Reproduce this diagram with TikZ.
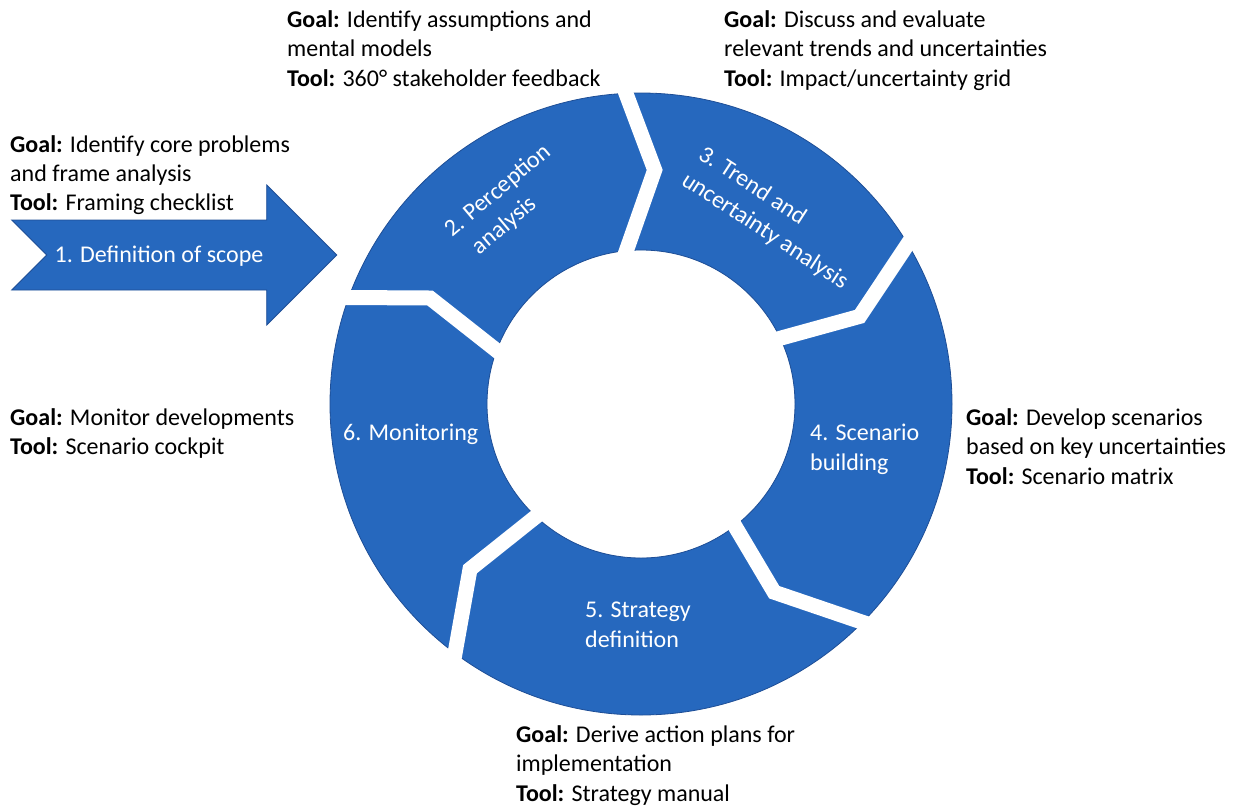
\documentclass[tikz,border=0pt]{standalone}
\usepackage{fontspec}
\setmainfont{Carlito}
\usetikzlibrary{calc}
\definecolor{ringblue}{RGB}{38,104,190}
\definecolor{ringedge}{RGB}{30,78,150}
\begin{document}
\begin{tikzpicture}[x=1pt,y=-1pt,
  lbl/.style={anchor=base west, inner sep=0pt, font=\fontsize{24}{29.3}\selectfont, text=black},
  seglbl/.style={inner sep=0pt, font=\fontsize{24}{30}\selectfont, text=white},
  rotlbl/.style={inner sep=0pt, anchor=base west, font=\fontsize{24}{31}\selectfont, text=white},
  gapline/.style={white, line width=15pt, miter limit=10},
  blueshape/.style={fill=ringblue, draw=ringedge, line width=0.8pt}]
\useasboundingbox (0,0) rectangle (1243,807);
% ring
\coordinate (c) at (641,404);
\path[blueshape, even odd rule] (c) circle[radius=311] (c) circle[radius=154];
% gap points (outer, middle, inner)
\coordinate (g1o) at (347,297.5);  \coordinate (g1m) at (430,298);    \coordinate (g1i) at (496,350);
\coordinate (g2o) at (625.3,91.7); \coordinate (g2m) at (654.7,170);  \coordinate (g2i) at (627.2,248.3);
\coordinate (g3o) at (907.8,244);  \coordinate (g3m) at (859.6,316.4);\coordinate (g3i) at (781.2,338);
\coordinate (g4o) at (860.8,621.7);\coordinate (g4m) at (774.2,592.2);\coordinate (g4i) at (734.5,525.3);
\coordinate (g5o) at (455.5,650.5);\coordinate (g5m) at (470,569.2);  \coordinate (g5i) at (535.8,516.7);
\begin{scope}
\clip (c) circle[radius=316];
\foreach \g in {g1,g2,g3,g4,g5}
  \draw[gapline] ($(\g m)!1.5!(\g o)$) -- (\g m) -- ($(\g m)!1.5!(\g i)$);
\end{scope}
% step 1 arrow
\path[blueshape] (11.7,220) -- (266.7,220) -- (266.7,185) -- (336.7,255) -- (266.7,325) -- (266.7,290) -- (11.7,290) -- (46.7,255) -- cycle;
% segment labels
\node[seglbl, anchor=base] (t1) at (159,262) {1. Definition of scope};
\node[rotlbl, rotate=40] (t2) at (452,238) {\begin{tabular}[t]{@{}l@{}}2. Perception\\\hspace*{10pt}analysis\end{tabular}};
\node[rotlbl, rotate=-33] (t3) at (697,158) {\begin{tabular}[t]{@{}l@{}}3. Trend and\\uncertainty analysis\end{tabular}};
\node[seglbl, anchor=base west] (t4) at (810,440) {\begin{tabular}[t]{@{}l@{}}4. Scenario\\building\end{tabular}};
\node[seglbl, anchor=base west] (t5) at (585,617) {\begin{tabular}[t]{@{}l@{}}5. Strategy\\definition\end{tabular}};
\node[seglbl, anchor=base west] (t6) at (343,440) {6. Monitoring};
% descriptions
\node[lbl] (d1) at (10,152) {\begin{tabular}[t]{@{}l@{}}\textbf{Goal:} Identify core problems\\and frame analysis\\\textbf{Tool:} Framing checklist\end{tabular}};
\node[lbl] (d2) at (287,27.5) {\begin{tabular}[t]{@{}l@{}}\textbf{Goal:} Identify assumptions and\\mental models\\\textbf{Tool:} 360° stakeholder feedback\end{tabular}};
\node[lbl] (d3) at (724,27.5) {\begin{tabular}[t]{@{}l@{}}\textbf{Goal:} Discuss and evaluate\\relevant trends and uncertainties\\\textbf{Tool:} Impact/uncertainty grid\end{tabular}};
\node[lbl] (d4) at (966,425.5) {\begin{tabular}[t]{@{}l@{}}\textbf{Goal:} Develop scenarios\\based on key uncertainties\\\textbf{Tool:} Scenario matrix\end{tabular}};
\node[lbl] (d5) at (516,742.5) {\begin{tabular}[t]{@{}l@{}}\textbf{Goal:} Derive action plans for\\implementation\\\textbf{Tool:} Strategy manual\end{tabular}};
\node[lbl] (d6) at (10,425.5) {\begin{tabular}[t]{@{}l@{}}\textbf{Goal:} Monitor developments\\\textbf{Tool:} Scenario cockpit\end{tabular}};
\end{tikzpicture}
\end{document}
